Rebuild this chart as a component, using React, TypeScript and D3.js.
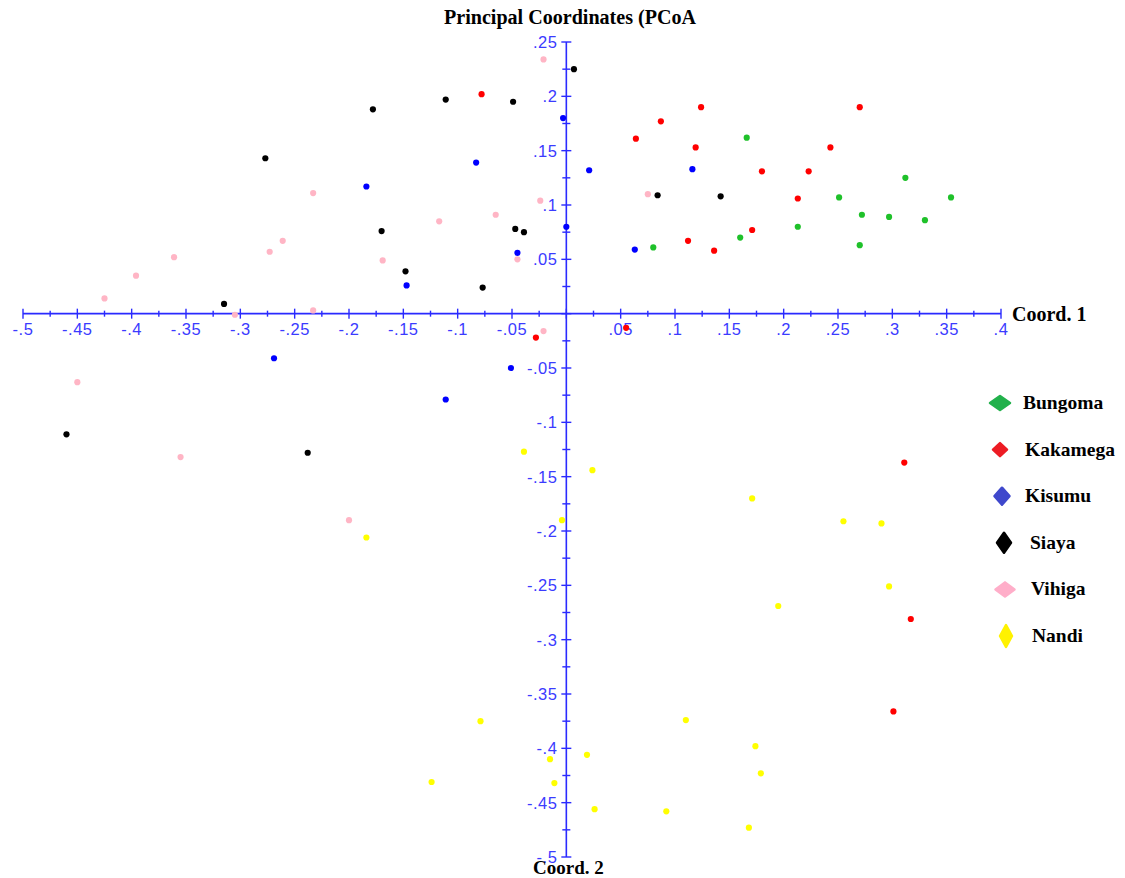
import React, { useRef, useEffect } from "react";
import * as d3 from "d3";

// PCoA coordinates [coord1, coord2]
const bungoma: [number, number][] = [
  [0.166, 0.162], [0.251, 0.107], [0.272, 0.091], [0.312, 0.125], [0.354, 0.107],
  [0.297, 0.089], [0.330, 0.086], [0.213, 0.080], [0.160, 0.070], [0.080, 0.061],
  [0.270, 0.063],
];
const kakamega: [number, number][] = [
  [0.124, 0.190], [0.270, 0.190], [0.087, 0.177], [0.064, 0.161], [0.119, 0.153],
  [0.243, 0.153], [0.180, 0.131], [0.223, 0.131], [0.213, 0.106], [0.171, 0.077],
  [0.112, 0.067], [0.136, 0.058], [-0.078, 0.202], [-0.028, -0.022], [0.055, -0.013],
  [0.311, -0.137], [0.317, -0.281], [0.301, -0.366],
];
const kisumu: [number, number][] = [
  [-0.003, 0.180], [0.021, 0.132], [0.116, 0.133], [0.0, 0.080], [0.063, 0.059],
  [-0.083, 0.139], [-0.184, 0.117], [-0.045, 0.056], [-0.147, 0.026], [-0.269, -0.041],
  [-0.051, -0.050], [-0.111, -0.079],
];
const siaya: [number, number][] = [
  [0.007, 0.225], [-0.111, 0.197], [-0.049, 0.195], [-0.178, 0.188], [-0.277, 0.143],
  [0.084, 0.109], [0.142, 0.108], [-0.170, 0.076], [-0.047, 0.078], [-0.039, 0.075],
  [-0.148, 0.039], [-0.077, 0.024], [-0.315, 0.009], [-0.460, -0.111], [-0.238, -0.128],
];
const vihiga: [number, number][] = [
  [-0.021, 0.234], [-0.233, 0.111], [-0.117, 0.085], [-0.065, 0.091], [-0.261, 0.067],
  [-0.273, 0.057], [-0.361, 0.052], [-0.396, 0.035], [-0.425, 0.014], [-0.169, 0.049],
  [-0.045, 0.050], [-0.233, 0.003], [-0.305, -0.001], [-0.021, -0.016], [-0.450, -0.063],
  [-0.355, -0.132], [-0.200, -0.190], [0.075, 0.110], [-0.024, 0.104],
];
const nandi: [number, number][] = [
  [-0.039, -0.127], [0.024, -0.144], [-0.004, -0.190], [0.171, -0.170], [0.255, -0.191],
  [0.290, -0.193], [0.297, -0.251], [0.195, -0.269], [-0.184, -0.206], [-0.079, -0.375],
  [0.110, -0.374], [0.019, -0.406], [-0.015, -0.410], [-0.124, -0.431], [-0.011, -0.432],
  [0.174, -0.398], [0.179, -0.423], [0.026, -0.456], [0.092, -0.458], [0.168, -0.473],
];

const groupNames = ["Bungoma", "Kakamega", "Kisumu", "Siaya", "Vihiga", "Nandi"];
const groupData = [bungoma, kakamega, kisumu, siaya, vihiga, nandi];
const pointColors = ["#1fc12a", "#ff0000", "#0000ff", "#000000", "#ffb5c5", "#ffff00"];
const legendColors = ["#22b14c", "#ed1c24", "#3f48cc", "#000000", "#ffaec9", "#fff200"];
// legend diamond half-width / half-height and horizontal offsets
const legendShape = [[10, 7], [7, 6.5], [7.5, 8.5], [7, 10], [9.5, 7], [6, 11]];
const legendDx = [0, 0, 2, 4, 5, 6];
const legendTextDx = [0, 2, 2, 7, 8, 9];

const xTicks = d3.range(-20, 17).map(i => i * 0.025);
const yTicks = d3.range(-20, 11).map(i => i * 0.025);

const fmt = (v: number) => {
  const s = (+v.toFixed(3)).toString();
  return s.replace(/^(-?)0\./, "$1.");
};

const App = () => {
  const svgRef = useRef<SVGSVGElement>(null);

  useEffect(() => {
    const svg = d3.select(svgRef.current);
    svg.selectAll("*").remove();

    const x = d3.scaleLinear().domain([-0.5, 0.4]).range([23, 1001]);
    const y = d3.scaleLinear().domain([0.25, -0.5]).range([42, 857]);
    const axisColor = "#2a2aff";
    const labelColor = "#3b3bff";

    const g = svg.append("g");

    // title
    g.append("text")
      .attr("x", 570)
      .attr("y", 24)
      .attr("text-anchor", "middle")
      .attr("textLength", 252)
      .attr("lengthAdjust", "spacingAndGlyphs")
      .style("font-family", "'Liberation Serif', 'Times New Roman', serif")
      .style("font-weight", "bold")
      .style("font-size", "20px")
      .text("Principal Coordinates (PCoA");

    // x axis
    g.append("line")
      .attr("x1", x(-0.5)).attr("x2", x(0.4))
      .attr("y1", y(0)).attr("y2", y(0))
      .attr("stroke", axisColor).attr("stroke-width", 1.6);

    g.selectAll("line.xtick")
      .data(xTicks)
      .join("line")
      .attr("class", "xtick")
      .attr("x1", d => x(d)).attr("x2", d => x(d))
      .attr("y1", (d, i) => y(0) - (i % 2 === 0 ? 5 : 3))
      .attr("y2", (d, i) => y(0) + (i % 2 === 0 ? 5 : 3))
      .attr("stroke", axisColor).attr("stroke-width", 1.4);

    g.selectAll("text.xlab")
      .data(xTicks.filter((d, i) => i % 2 === 0 && Math.abs(d) > 1e-9))
      .join("text")
      .attr("class", "xlab")
      .attr("x", d => x(d))
      .attr("y", y(0) + 21)
      .attr("text-anchor", "middle")
      .style("fill", labelColor)
      .style("font-family", "'Liberation Sans', Arial, sans-serif")
      .style("font-size", "16.5px")
      .style("letter-spacing", "0.5px")
      .text(d => fmt(d));

    // y axis
    g.append("line")
      .attr("x1", x(0)).attr("x2", x(0))
      .attr("y1", y(0.25)).attr("y2", y(-0.5))
      .attr("stroke", axisColor).attr("stroke-width", 1.6);

    g.selectAll("line.ytick")
      .data(yTicks)
      .join("line")
      .attr("class", "ytick")
      .attr("x1", (d, i) => x(0) - (i % 2 === 0 ? 5 : 4))
      .attr("x2", (d, i) => x(0) + (i % 2 === 0 ? 5 : 4))
      .attr("y1", d => y(d)).attr("y2", d => y(d))
      .attr("stroke", axisColor).attr("stroke-width", 1.4);

    g.selectAll("text.ylab")
      .data(yTicks.filter((d, i) => i % 2 === 0 && Math.abs(d) > 1e-9))
      .join("text")
      .attr("class", "ylab")
      .attr("x", x(0) - 9)
      .attr("y", d => y(d) + 6)
      .attr("text-anchor", "end")
      .style("fill", labelColor)
      .style("font-family", "'Liberation Sans', Arial, sans-serif")
      .style("font-size", "16.5px")
      .style("letter-spacing", "0.5px")
      .text(d => fmt(d));

    // axis titles
    g.append("text")
      .attr("x", 1012).attr("y", 321)
      .style("font-family", "'Liberation Serif', 'Times New Roman', serif")
      .style("font-weight", "bold")
      .style("font-size", "20px")
      .text("Coord. 1");

    g.append("text")
      .attr("x", 533).attr("y", 874)
      .style("font-family", "'Liberation Serif', 'Times New Roman', serif")
      .style("font-weight", "bold")
      .style("font-size", "19px")
      .text("Coord. 2");

    // points
    groupData.forEach((pts, gi) => {
      g.append("g")
        .selectAll("path")
        .data(pts)
        .join("path")
        .attr("d", d3.symbol(d3.symbolCircle).size(30)())
        .attr("transform", d => `translate(${x(d[0])},${y(d[1])})`)
        .attr("fill", pointColors[gi]);
    });

    // legend
    const legend = g.append("g");
    groupNames.forEach((name, i) => {
      const cy = 403 + i * 46.6;
      const cx = 1000 + legendDx[i];
      const [hw, hh] = legendShape[i];
      legend.append("path")
        .attr("d", `M${cx - hw},${cy} L${cx},${cy - hh} L${cx + hw},${cy} L${cx},${cy + hh} Z`)
        .attr("fill", legendColors[i])
        .attr("stroke", legendColors[i])
        .attr("stroke-width", 2.5)
        .attr("stroke-linejoin", "round");
      legend.append("text")
        .attr("x", 1023 + legendTextDx[i])
        .attr("y", cy + 6)
        .style("font-family", "'Liberation Serif', 'Times New Roman', serif")
        .style("font-weight", "bold")
        .style("font-size", "19.5px")
        .text(name);
    });
  }, []);

  return (
    <svg
      ref={svgRef}
      width={1125}
      height={878}
      style={{ position: "absolute", left: 0, top: 0, background: "#fff" }}
    />
  );
};

export default App;
